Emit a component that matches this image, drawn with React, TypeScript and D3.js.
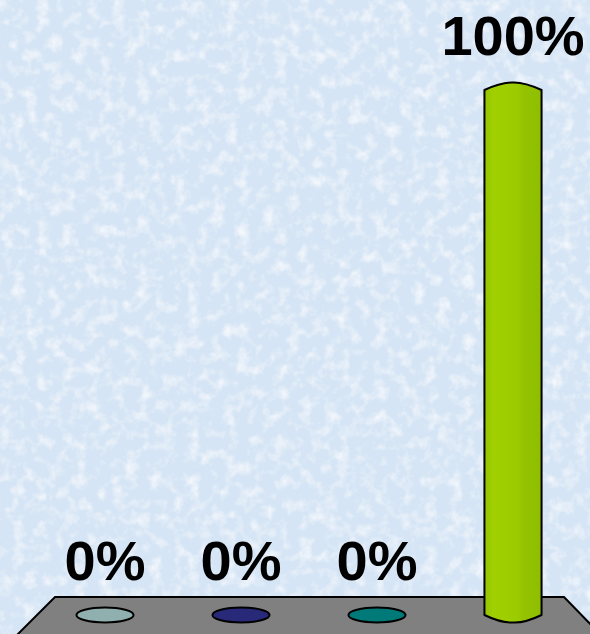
import React, { useRef, useEffect } from 'react';
import * as d3 from 'd3';

const categories = ['A', 'B', 'C', 'D'];
const values = [0, 0, 0, 100];
const barColors = ['#8fb0ae', '#29297a', '#007a78', '#99cc00'];
const valueLabels = ['0%', '0%', '0%', '100%'];

const App: React.FC = () => {
  const svgRef = useRef<SVGSVGElement>(null);

  useEffect(() => {
    if (!svgRef.current) return;
    const svg = d3.select(svgRef.current);
    svg.selectAll('*').remove();

    const width = 590;
    const height = 634;
    const floorTop = 597;
    const baseY = 615;

    // background: light blue with a soft mottled texture
    const defs = svg.append('defs');
    const filt = defs.append('filter').attr('id', 'mottle')
      .attr('x', 0).attr('y', 0).attr('width', '100%').attr('height', '100%');
    filt.append('feTurbulence').attr('type', 'fractalNoise').attr('baseFrequency', 0.08)
      .attr('numOctaves', 3).attr('seed', 4).attr('result', 'noise');
    filt.append('feColorMatrix').attr('in', 'noise').attr('type', 'matrix')
      .attr('values', '0 0 0 0 1  0 0 0 0 1  0 0 0 0 1  1.6 0 0 0 -0.75')
      .attr('result', 'spots');
    filt.append('feComposite').attr('in', 'spots').attr('in2', 'SourceGraphic').attr('operator', 'over');
    svg.append('rect').attr('width', width).attr('height', height).attr('fill', '#d6e5f5')
      .attr('filter', 'url(#mottle)');

    const grad = defs.append('linearGradient').attr('id', 'green').attr('x1', 0).attr('x2', 1);
    grad.append('stop').attr('offset', '0%').attr('stop-color', '#94c400');
    grad.append('stop').attr('offset', '15%').attr('stop-color', '#a0d000');
    grad.append('stop').attr('offset', '55%').attr('stop-color', '#9ccc00');
    grad.append('stop').attr('offset', '70%').attr('stop-color', '#93c300');
    grad.append('stop').attr('offset', '100%').attr('stop-color', '#8fbe00');

    // floor
    svg.append('path')
      .attr('d', `M55,${floorTop} L564,${floorTop} L601,${height + 1} L17,${height + 1} Z`)
      .attr('fill', '#808080').attr('stroke', '#000').attr('stroke-width', 2);

    const x = d3.scaleBand().domain(categories).range([37, 581]).paddingInner(0.58).paddingOuter(0.29);
    const y = d3.scaleLinear().domain([0, 100]).range([baseY, 90]);
    const bw = x.bandwidth();
    const ry = 7.5;

    categories.forEach((c, i) => {
      const x0 = x(c) || 0;
      const cx = x0 + bw / 2;
      const rx = bw / 2;
      const v = values[i];
      const fill = v > 0 && i === 3 ? 'url(#green)' : barColors[i];
      if (v <= 0) {
        svg.append('ellipse').attr('cx', cx).attr('cy', baseY).attr('rx', rx).attr('ry', 7.5)
          .attr('fill', fill).attr('stroke', '#000').attr('stroke-width', 2);
      } else {
        const top = y(v);
        const path = d3.path();
        path.moveTo(x0, top);
        path.lineTo(x0, baseY);
        path.quadraticCurveTo(x0 + bw * 0.3, baseY + ry * 1.1, cx, baseY + ry);
        path.quadraticCurveTo(x0 + bw * 0.7, baseY + ry * 1.1, x0 + bw, baseY);
        path.lineTo(x0 + bw, top);
        path.quadraticCurveTo(x0 + bw * 0.7, top - ry * 1.05, cx, top - ry);
        path.quadraticCurveTo(x0 + bw * 0.3, top - ry * 1.05, x0, top);
        path.closePath();
        svg.append('path').attr('d', path.toString())
          .attr('fill', fill).attr('stroke', '#000').attr('stroke-width', 2).attr('stroke-linejoin', 'round');
      }
      svg.append('text')
        .attr('x', cx)
        .attr('y', v > 0 ? y(v) - 35 : 580)
        .attr('text-anchor', 'middle')
        .attr('font-family', 'Liberation Sans, Arial, sans-serif')
        .attr('font-weight', 'bold')
        .attr('font-size', 56)
        .attr('fill', '#000')
        .text(valueLabels[i]);
    });
  }, []);

  return (
    <svg ref={svgRef} width={590} height={634}
      style={{ position: 'absolute', left: 0, top: 0, display: 'block' }} />
  );
};

export default App;
